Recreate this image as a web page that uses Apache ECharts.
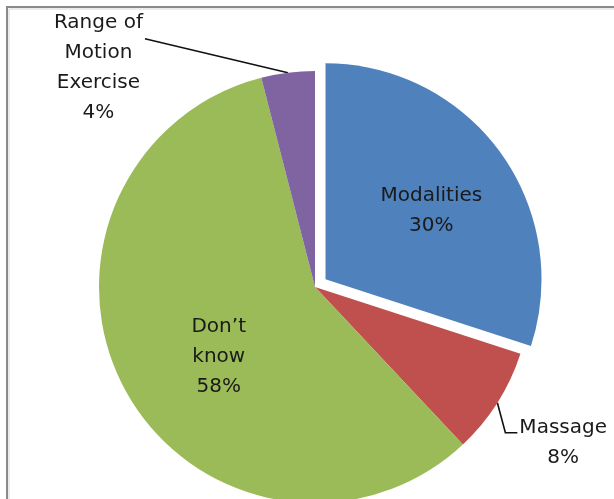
<!DOCTYPE html>
<html>
<head>
<meta charset="utf-8">
<script src="https://cdn.jsdelivr.net/npm/echarts@6/dist/echarts.min.js"></script>
<style>
html,body{margin:0;padding:0;background:#fff;}
#c{width:614px;height:499px;}
</style>
</head>
<body>
<div id="c"></div>
<script>
// Data
var categories = ['Modalities', 'Massage', 'Don\u2019t know', 'Range of Motion Exercise'];
var labelTexts = ['Modalities', 'Massage', 'Don\u2019t\nknow', 'Range of\nMotion\nExercise'];
var values = [30, 8, 58, 4];
var colors = ['#4F81BD', '#C0504D', '#9BBB59', '#8064A2'];

var chart = echarts.init(document.getElementById('c'), null, {renderer: 'canvas'});

var FONT = 'DejaVu Sans';

var data = categories.map(function (name, i) {
  var item = {
    name: name,
    value: values[i],
    itemStyle: {color: colors[i]},
    label: {}
  };
  if (i === 0) { item.selected = true; }
  if (i === 0 || i === 2) {
    item.label.position = 'inside';
    item.labelLine = {show: false};
  } else {
    item.label.position = 'outside';
    item.labelLine = {show: true, length: 15, length2: 15, lineStyle: {color: '#111', width: 1.6}};
  }
  return item;
});

chart.setOption({
  animation: false,
  backgroundColor: '#ffffff',
  graphic: [
    {type: 'polyline', shape: {points: [[7, 499], [7, 7], [614, 7]]},
     style: {stroke: '#8a8a8a', lineWidth: 2, fill: null}, silent: true},
    {type: 'polyline', shape: {points: [[9, 499], [9, 9], [614, 9]]},
     style: {stroke: '#d8d8d8', lineWidth: 1, fill: null}, silent: true}
  ],
  series: [{
    type: 'pie',
    center: [315, 287],
    radius: 216,
    startAngle: 90,
    clockwise: true,
    selectedMode: 'multiple',
    selectedOffset: 13,
    avoidLabelOverlap: false,
    select: {itemStyle: {borderWidth: 0}},
    itemStyle: {borderWidth: 0},
    emphasis: {disabled: true},
    label: {
      color: '#1a1a1a',
      fontFamily: FONT,
      fontSize: 20,
      lineHeight: 30,
      align: 'center',
      formatter: function (p) {
        return labelTexts[p.dataIndex] + '\n' + values[p.dataIndex] + '%';
      }
    },
    labelLayout: function (p) {
      var i = p.dataIndex;
      if (i === 0) return {dx: 16, dy: -3};
      if (i === 2) return {dx: 1, dy: 16};
      var pts = p.labelLinePoints;
      if (!pts) return {};
      var e = pts[0];
      var w = p.labelRect.width, h = p.labelRect.height;
      if (i === 1) {
        var lx = e[0] + 22, ty = e[1] + 10;
        return {
          x: lx + w / 2, y: ty, align: 'center', verticalAlign: 'top',
          labelLinePoints: [[e[0], e[1]], [e[0] + 8, e[1] + 30], [e[0] + 20, e[1] + 30]]
        };
      }
      if (i === 3) {
        var rx = e[0] - 145, ty3 = e[1] - 65;
        return {
          x: rx - w / 2, y: ty3, align: 'center', verticalAlign: 'top',
          labelLinePoints: [[e[0], e[1]], [e[0] - 143, e[1] - 34], [e[0] - 143, e[1] - 34]]
        };
      }
      return {};
    },
    data: data
  }]
});
</script>
</body>
</html>
